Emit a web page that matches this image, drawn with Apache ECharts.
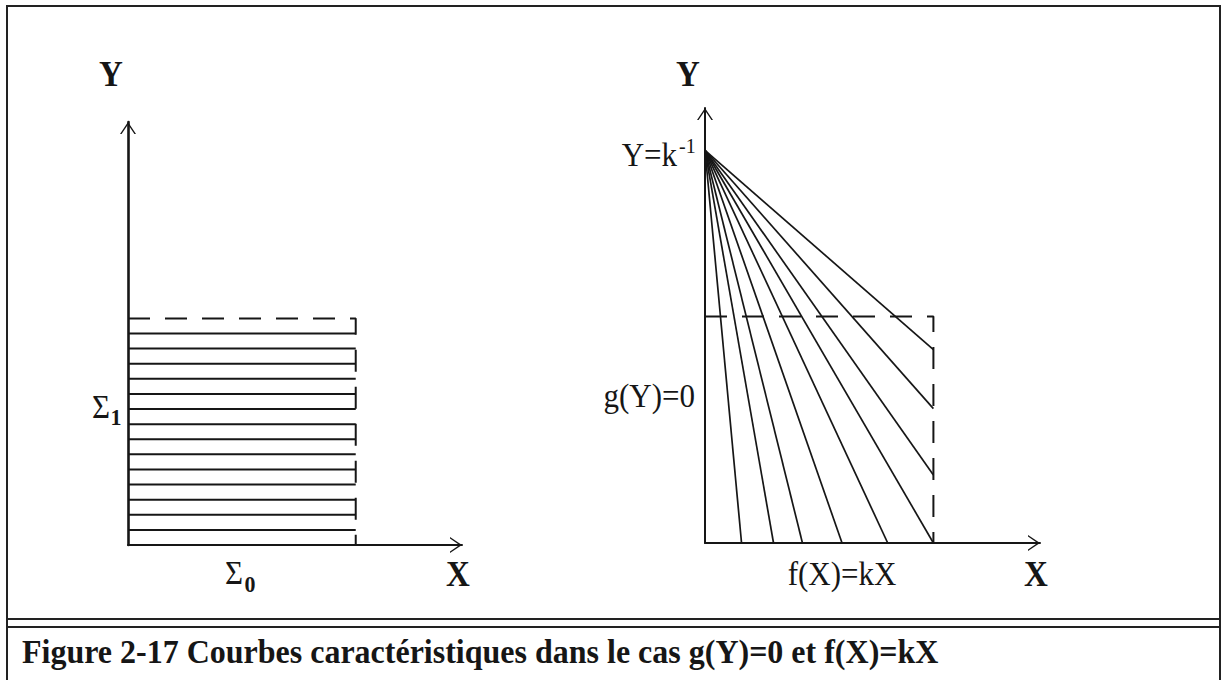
<!DOCTYPE html>
<html>
<head>
<meta charset="utf-8">
<script src="https://cdn.jsdelivr.net/npm/echarts@6/dist/echarts.min.js"></script>
<style>
  html, body { margin: 0; padding: 0; background: #fff; }
  #chart { width: 1222px; height: 680px; }
</style>
</head>
<body>
<div id="chart"></div>
<script>
// left panel: horizontal characteristics, levels of Y
let leftLevels = [1, 2, 3, 4, 5, 6, 7, 8, 9, 10, 11, 12, 13, 14];
let boxSide = 15;
// right panel: fan from the point Y=k^-1 on the axis
let fanApex = 26;
let fanBottomX = [2.4, 4.5, 6.4, 9.0, 12.0, 15.0];
let fanRightY = [4.5, 8.9, 12.8];
// axis ranges
let leftXMax = 22, leftYMax = 28;
let rightXMax = 22, rightYMax = 28.8;

let ink = '#161616';
let serif = '"Liberation Serif", "Times New Roman", serif';
let arrow = 'path://M0,12 L8,0 L16,12 L14.4,12 L8,2.6 L1.6,12 Z';

function axisX(idx, max) {
  return {
    type: 'value', gridIndex: idx, min: 0, max: max,
    axisLine: { show: true, onZero: false, symbol: ['none', arrow], symbolSize: [16, 12], symbolOffset: [0, -6],
      lineStyle: { color: ink, width: 2 } },
    axisTick: { show: false }, axisLabel: { show: false }, splitLine: { show: false }
  };
}
function axisY(idx, max, w) {
  return {
    type: 'value', gridIndex: idx, min: 0, max: max,
    axisLine: { show: true, onZero: false, symbol: ['none', arrow], symbolSize: [16, 12], symbolOffset: [0, -6],
      lineStyle: { color: ink, width: w } },
    axisTick: { show: false }, axisLabel: { show: false }, splitLine: { show: false }
  };
}

function seg(idx, pts, dashed, w) {
  return {
    type: 'line', xAxisIndex: idx, yAxisIndex: idx, data: pts,
    symbol: 'none', silent: true, animation: false,
    lineStyle: { color: ink, width: w, type: dashed ? [22, 15] : 'solid' }
  };
}

let series = [];
leftLevels.forEach(function (y) {
  series.push(seg(0, [[0, y], [boxSide, y]], false, 2));
});
series.push(seg(0, [[0, boxSide], [boxSide, boxSide], [boxSide, 0]], true, 2));

fanBottomX.forEach(function (x) {
  series.push(seg(1, [[0, fanApex], [x, 0]], false, 1.7));
});
fanRightY.forEach(function (y) {
  series.push(seg(1, [[0, fanApex], [boxSide, y]], false, 1.7));
});
series.push(seg(1, [[0, boxSide], [boxSide, boxSide], [boxSide, 0]], true, 2));

function label(x, y, text, size, bold, align) {
  return {
    type: 'text', x: x, y: y, scaleY: 1.08, silent: true,
    style: {
      text: text, fill: ink,
      font: (bold ? 'bold ' : '') + size + 'px ' + serif,
      textAlign: align || 'center', textVerticalAlign: 'middle'
    }
  };
}

let chart = echarts.init(document.getElementById('chart'), null, { renderer: 'svg' });
chart.setOption({
  backgroundColor: '#fff',
  animation: false,
  grid: [
    { left: 128, top: 122, width: 334, height: 423 },
    { left: 705, top: 108, width: 335, height: 435 }
  ],
  xAxis: [axisX(0, leftXMax), axisX(1, rightXMax)],
  yAxis: [axisY(0, leftYMax, 2.6), axisY(1, rightYMax, 2)],
  series: series,
  graphic: [
    // frame
    { type: 'rect', silent: true, shape: { x: 7, y: 6, width: 1213, height: 700 },
      style: { fill: 'none', stroke: '#222', lineWidth: 2 } },
    { type: 'line', silent: true, shape: { x1: 7, y1: 619, x2: 1220, y2: 619 },
      style: { stroke: '#222', lineWidth: 2 } },
    { type: 'line', silent: true, shape: { x1: 7, y1: 627, x2: 1220, y2: 627 },
      style: { stroke: '#222', lineWidth: 2 } },
    // axis names
    label(111, 74, 'Y', 33, true),
    label(458, 574, 'X', 33, true),
    label(688, 74, 'Y', 33, true),
    label(1036, 574, 'X', 33, true),
    // left panel
    label(234, 573, 'Σ', 31, false),
    label(250, 584, '0', 22, true),
    label(101, 407, 'Σ', 31, false),
    label(116, 417, '1', 22, true),
    // right panel
    label(677, 155, 'Y=k', 31, false, 'right'),
    label(679, 146, '-1', 20, false, 'left'),
    label(695, 396, 'g(Y)=0', 31, false, 'right'),
    label(842, 574, 'f(X)=kX', 31, false),
    // caption
    label(22, 651, 'Figure 2-17 Courbes caractéristiques dans le cas g(Y)=0 et f(X)=kX', 32, true, 'left')
  ]
});
</script>
</body>
</html>
